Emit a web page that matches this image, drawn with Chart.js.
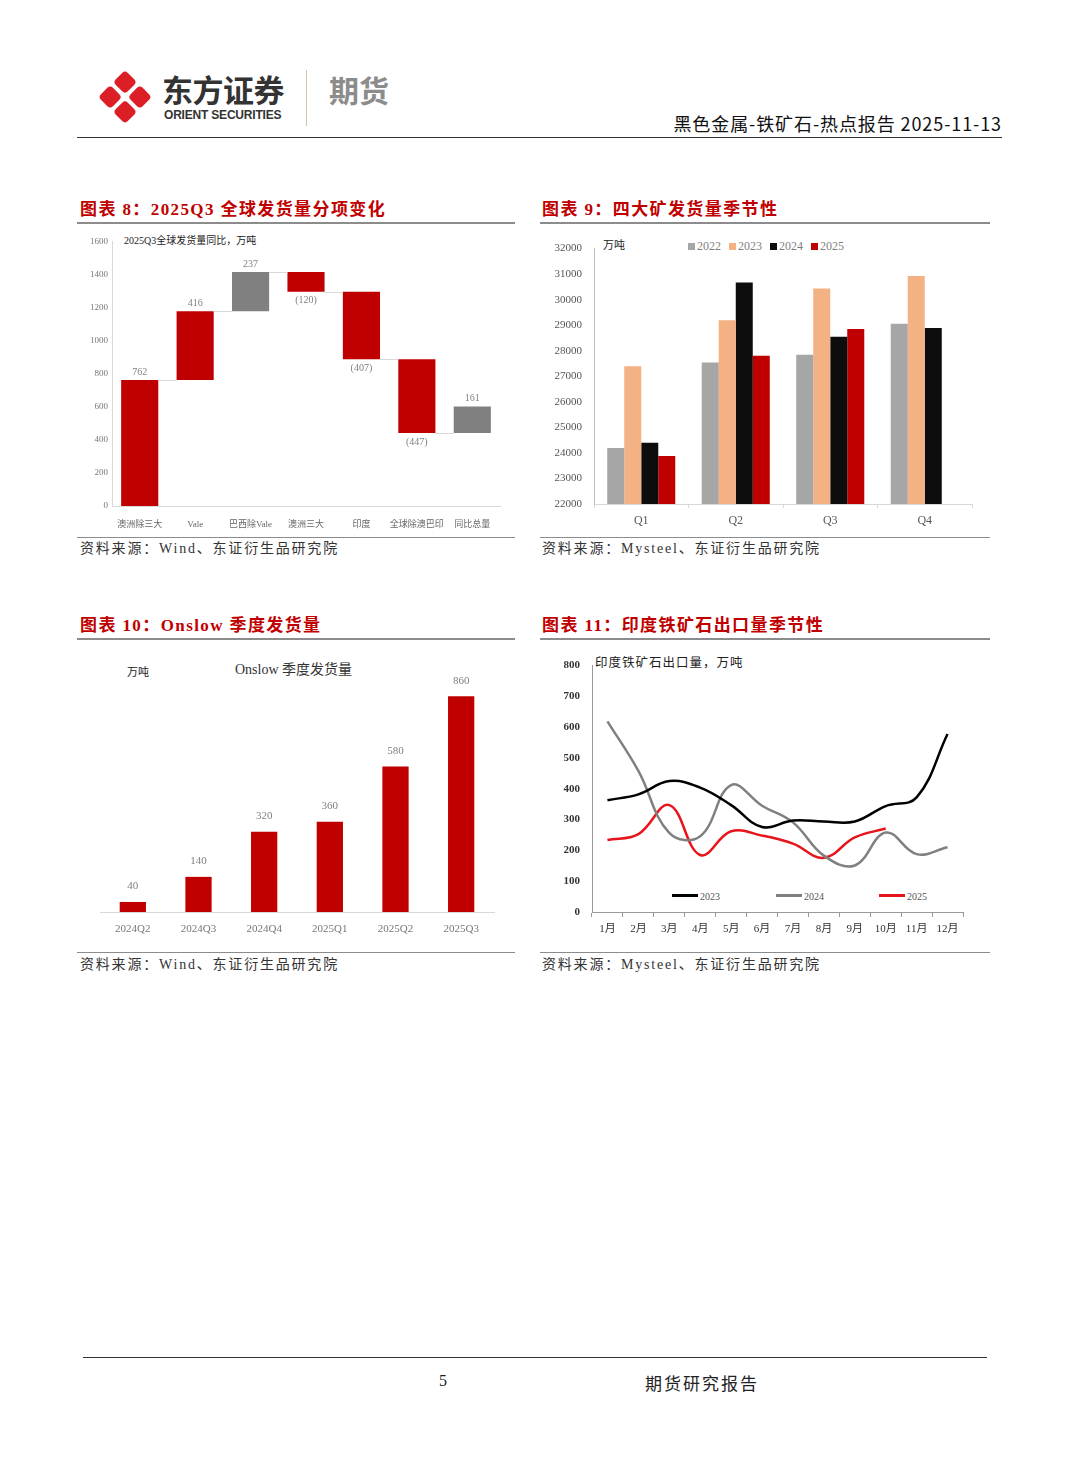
<!DOCTYPE html>
<html>
<head>
<meta charset="utf-8">
<script src="https://cdn.jsdelivr.net/npm/chart.js@4.4.0/dist/chart.umd.min.js"></script>
<style>
  body { margin: 0; background: #fff; }
  #page { position: relative; width: 1080px; height: 1466px; overflow: hidden; background: #fff;
          font-family: "Liberation Serif", "Noto Sans CJK SC", serif; }
  .abs { position: absolute; white-space: nowrap; }
  .rule { position: absolute; height: 0; }
  .title { color: #c00000; font-size: 17px; font-weight: 600; letter-spacing: 1.4px; }
  .src { color: #333; font-size: 14px; letter-spacing: 1.8px; }
  .note { color: #222; font-size: 10px; font-family: "Liberation Serif", "Noto Sans CJK SC", serif; }
  canvas { position: absolute; }
  .logo { position: absolute; left: 106px; top: 78px; width: 38px; height: 38px; transform: rotate(45deg); }
  .logo div { position: absolute; width: 17px; height: 17px; background: #dc1e26; border-radius: 4px; }
  .sw { display: inline-block; width: 7px; height: 7px; margin-right: 2px; vertical-align: 0px; }
  .ln { display: inline-block; width: 26px; height: 0; border-top: 3px solid; vertical-align: 3px; margin-right: 2px; }
</style>
</head>
<body>
<div id="page">
  <!-- header -->
  <div class="logo">
    <div style="left:0;top:0"></div><div style="left:21px;top:0"></div>
    <div style="left:0;top:21px"></div><div style="left:21px;top:21px"></div>
  </div>
  <div class="abs" style="left:162px;top:66px;font:bold 31px 'Noto Sans CJK SC';color:#333;letter-spacing:-0.5px">东方证券</div>
  <div class="abs" style="left:164px;top:108px;font:bold 12px 'Liberation Sans','Noto Sans';color:#333;letter-spacing:-0.2px">ORIENT SECURITIES</div>
  <div class="abs" style="left:306px;top:70px;width:1px;height:56px;background:#cfc2a8"></div>
  <div class="abs" style="left:329px;top:67px;font:bold 30px 'Noto Sans CJK SC';color:#8c8c8c">期货</div>
  <div class="abs" style="right:78px;top:110px;font:18px 'Noto Sans CJK SC';color:#111;letter-spacing:0.9px">黑色金属-铁矿石-热点报告 2025-11-13</div>
  <div class="rule" style="left:77px;top:137px;width:925px;border-top:1.5px solid #333"></div>

  <!-- chart 8 -->
  <div class="abs title" style="left:80px;top:195px">图表 8：2025Q3 全球发货量分项变化</div>
  <div class="rule" style="left:77px;top:222px;width:438px;border-top:2px solid #8c8c8c"></div>
  <div class="abs note" style="left:124px;top:232px">2025Q3全球发货量同比，万吨</div>
  <canvas id="c8" width="430" height="300" style="left:80px;top:232px;width:430px;height:300px"></canvas>
  <div class="rule" style="left:77px;top:537px;width:438px;border-top:1.5px solid #8c8c8c"></div>
  <div class="abs src" style="left:80px;top:537px">资料来源：Wind、东证衍生品研究院</div>

  <!-- chart 9 -->
  <div class="abs title" style="left:542px;top:195px">图表 9：四大矿发货量季节性</div>
  <div class="rule" style="left:540px;top:222px;width:450px;border-top:2px solid #8c8c8c"></div>
  <div class="abs note" style="left:603px;top:236px;font-size:11px">万吨</div>
  <div class="abs note" style="left:688px;top:239px;font-size:12px;color:#7f7f7f;word-spacing:1px">
    <span class="sw" style="background:#a6a6a6"></span>2022&nbsp;
    <span class="sw" style="background:#f4b183"></span>2023&nbsp;
    <span class="sw" style="background:#0d0d0d"></span>2024&nbsp;
    <span class="sw" style="background:#c00000"></span>2025
  </div>
  <canvas id="c9" width="440" height="298" style="left:540px;top:230px;width:440px;height:298px"></canvas>
  <div class="rule" style="left:540px;top:537px;width:450px;border-top:1.5px solid #8c8c8c"></div>
  <div class="abs src" style="left:542px;top:537px">资料来源：Mysteel、东证衍生品研究院</div>

  <!-- chart 10 -->
  <div class="abs title" style="left:80px;top:611px">图表 10：Onslow 季度发货量</div>
  <div class="rule" style="left:77px;top:638px;width:438px;border-top:2px solid #8c8c8c"></div>
  <div class="abs note" style="left:127px;top:663px;font-size:11px">万吨</div>
  <div class="abs note" style="left:235px;top:658px;font-size:14px;color:#333">Onslow 季度发货量</div>
  <canvas id="c10" width="410" height="290" style="left:90px;top:650px;width:410px;height:290px"></canvas>
  <div class="rule" style="left:77px;top:952px;width:438px;border-top:1.5px solid #8c8c8c"></div>
  <div class="abs src" style="left:80px;top:953px">资料来源：Wind、东证衍生品研究院</div>

  <!-- chart 11 -->
  <div class="abs title" style="left:542px;top:611px">图表 11：印度铁矿石出口量季节性</div>
  <div class="rule" style="left:540px;top:638px;width:450px;border-top:2px solid #8c8c8c"></div>
  <div class="abs note" style="left:595px;top:652px;font-size:12.5px;letter-spacing:1px">印度铁矿石出口量，万吨</div>
  <div class="abs note" style="left:672px;top:891px;color:#555"><span class="ln" style="border-color:#000"></span>2023</div>
  <div class="abs note" style="left:776px;top:891px;color:#555"><span class="ln" style="border-color:#808080"></span>2024</div>
  <div class="abs note" style="left:879px;top:891px;color:#555"><span class="ln" style="border-color:#e8141c"></span>2025</div>
  <canvas id="c11" width="430" height="293" style="left:545px;top:647px;width:430px;height:293px"></canvas>
  <div class="rule" style="left:540px;top:952px;width:450px;border-top:1.5px solid #8c8c8c"></div>
  <div class="abs src" style="left:542px;top:953px">资料来源：Mysteel、东证衍生品研究院</div>

  <!-- footer -->
  <div class="rule" style="left:83px;top:1357px;width:904px;border-top:1.5px solid #333"></div>
  <div class="abs" style="left:439px;top:1372px;font-size:16px;color:#222">5</div>
  <div class="abs" style="left:645px;top:1370px;font:17px 'Noto Sans CJK SC';color:#222;letter-spacing:2px">期货研究报告</div>
</div>

<script>
// ---- chart 8: waterfall ----
const wfCategories = ['澳洲除三大', 'Vale', '巴西除Vale', '澳洲三大', '印度', '全球除澳巴印', '同比总量'];
const wfStart = [0, 762, 1178, 1415, 1295, 888, 441];
const wfEnd = [762, 1178, 1415, 1295, 888, 441, 602];
const wfLabels = ['762', '416', '237', '(120)', '(407)', '(447)', '161'];
const wfTicks = [0, 200, 400, 600, 800, 1000, 1200, 1400, 1600];

// ---- chart 9: big four seasonal ----
const bigQuarters = ['Q1', 'Q2', 'Q3', 'Q4'];
const big2022 = [24190, 27540, 27840, 29060];
const big2023 = [27390, 29190, 30440, 30930];
const big2024 = [24400, 30670, 28550, 28890];
const big2025 = [23880, 27800, 28850, null];

// ---- chart 10: Onslow ----
const onsQuarters = ['2024Q2', '2024Q3', '2024Q4', '2025Q1', '2025Q2', '2025Q3'];
const onsValues = [40, 140, 320, 360, 580, 860];

// ---- chart 11: India exports ----
const months = ['1月', '2月', '3月', '4月', '5月', '6月', '7月', '8月', '9月', '10月', '11月', '12月'];
const ind2023 = [363, 382, 425, 404, 347, 276, 297, 294, 294, 344, 372, 578];
const ind2024 = [619, 458, 257, 246, 412, 345, 291, 183, 151, 258, 188, 210];
const ind2025 = [234, 253, 347, 185, 262, 248, 222, 176, 242, 271];

Chart.defaults.font.family = '"Liberation Serif", "Noto Sans CJK SC", serif';
Chart.defaults.animation = false;
Chart.defaults.responsive = false;
Chart.defaults.plugins.legend.display = false;
Chart.defaults.plugins.tooltip.enabled = false;

const axisGray = '#d9d9d9';
const plain = v => String(v);

const wfPlugin = {
  id: 'wfPlugin',
  afterDatasetsDraw(chart) {
    const ctx = chart.ctx, y = chart.scales.y;
    const meta = chart.getDatasetMeta(0);
    ctx.save();
    ctx.strokeStyle = axisGray;
    ctx.lineWidth = 1;
    for (let i = 0; i < meta.data.length - 1; i++) {
      const a = meta.data[i], b = meta.data[i + 1];
      const py = Math.round(y.getPixelForValue(wfEnd[i])) + 0.5;
      ctx.beginPath();
      ctx.moveTo(a.x + a.width / 2, py);
      ctx.lineTo(b.x - b.width / 2, py);
      ctx.stroke();
    }
    ctx.fillStyle = '#808080';
    ctx.font = '10px "Liberation Serif"';
    ctx.textAlign = 'center';
    meta.data.forEach((bar, i) => {
      const py = y.getPixelForValue(wfEnd[i]);
      if (wfEnd[i] >= wfStart[i]) {
        ctx.textBaseline = 'bottom';
        ctx.fillText(wfLabels[i], bar.x, py - 3);
      } else {
        ctx.textBaseline = 'top';
        ctx.fillText(wfLabels[i], bar.x, py + 4);
      }
    });
    ctx.restore();
  }
};

new Chart(document.getElementById('c8'), {
  type: 'bar',
  data: {
    labels: wfCategories,
    datasets: [{
      data: wfStart.map((s, i) => [s, wfEnd[i]]),
      backgroundColor: ['#c00000', '#c00000', '#808080', '#c00000', '#c00000', '#c00000', '#808080'],
      barPercentage: 0.67,
      categoryPercentage: 1
    }]
  },
  options: {
    layout: { padding: { top: 8, right: 10, left: 0, bottom: 0 } },
    scales: {
      x: {
        grid: { display: false },
        border: { color: axisGray },
        ticks: { color: '#666', font: { size: 9 }, padding: 5, maxRotation: 0, autoSkip: false },
        afterFit: s => { s.height = 26; }
      },
      y: {
        min: 0, max: 1600,
        afterBuildTicks: s => { s.ticks = wfTicks.map(v => ({ value: v })); },
        grid: { display: false, drawTicks: false },
        border: { color: axisGray },
        ticks: { color: '#777', font: { size: 9 }, padding: 4, callback: plain },
        afterFit: s => { s.width = 32; }
      }
    }
  },
  plugins: [wfPlugin]
});

new Chart(document.getElementById('c9'), {
  type: 'bar',
  data: {
    labels: bigQuarters,
    datasets: [
      { label: '2022', data: big2022, backgroundColor: '#a6a6a6' },
      { label: '2023', data: big2023, backgroundColor: '#f4b183' },
      { label: '2024', data: big2024, backgroundColor: '#0d0d0d' },
      { label: '2025', data: big2025, backgroundColor: '#c00000' }
    ].map(d => Object.assign(d, { barPercentage: 1, categoryPercentage: 0.72 }))
  },
  options: {
    layout: { padding: { top: 0, right: 8, left: 0, bottom: 0 } },
    scales: {
      x: {
        grid: { drawOnChartArea: false, tickLength: 4, color: axisGray },
        border: { color: axisGray },
        ticks: { color: '#555', font: { size: 12 }, padding: 6 },
        afterFit: s => { s.height = 24; }
      },
      y: {
        min: 22000, max: 32000,
        ticks: { stepSize: 1000, color: '#555', font: { size: 11 }, padding: 12, callback: plain },
        grid: { display: false, drawTicks: false },
        border: { color: '#bfbfbf' },
        afterFit: s => { s.width = 54; }
      }
    }
  }
});

const onsLabelPlugin = {
  id: 'onsLabels',
  afterDatasetsDraw(chart) {
    const ctx = chart.ctx;
    const meta = chart.getDatasetMeta(0);
    ctx.save();
    ctx.fillStyle = '#808080';
    ctx.font = '11px "Liberation Serif"';
    ctx.textAlign = 'center';
    ctx.textBaseline = 'bottom';
    meta.data.forEach((bar, i) => ctx.fillText(String(onsValues[i]), bar.x, bar.y - 10));
    ctx.restore();
  }
};

new Chart(document.getElementById('c10'), {
  type: 'bar',
  data: {
    labels: onsQuarters,
    datasets: [{ data: onsValues, backgroundColor: '#c00000', barPercentage: 0.4, categoryPercentage: 1 }]
  },
  options: {
    layout: { padding: { top: 11, right: 6, left: 10, bottom: 0 } },
    scales: {
      x: {
        grid: { display: false },
        border: { color: axisGray },
        ticks: { color: '#777', font: { size: 11 }, padding: 3 },
        afterFit: s => { s.height = 28; }
      },
      y: { display: false, min: 0, max: 1000 }
    }
  },
  plugins: [onsLabelPlugin]
});

new Chart(document.getElementById('c11'), {
  type: 'line',
  data: {
    labels: months,
    datasets: [
      { label: '2023', data: ind2023, borderColor: '#000000' },
      { label: '2024', data: ind2024, borderColor: '#808080' },
      { label: '2025', data: ind2025, borderColor: '#e8141c' }
    ].map(d => Object.assign(d, { borderWidth: 2.5, pointRadius: 0, tension: 0.4, fill: false }))
  },
  options: {
    layout: { padding: { top: 1, right: 12, left: 0, bottom: 0 } },
    scales: {
      x: {
        offset: true,
        grid: { offset: true, drawOnChartArea: false, tickLength: 5, color: '#999' },
        border: { color: '#999' },
        ticks: { color: '#333', font: { size: 11 }, padding: 6 },
        afterFit: s => { s.height = 28; }
      },
      y: {
        min: 0, max: 800,
        ticks: { stepSize: 100, color: '#333', font: { size: 11, weight: 'bold' }, padding: 12, callback: plain },
        grid: { display: false, drawTicks: false },
        border: { color: '#999' },
        afterFit: s => { s.width = 47; }
      }
    }
  }
});
</script>
</body>
</html>
